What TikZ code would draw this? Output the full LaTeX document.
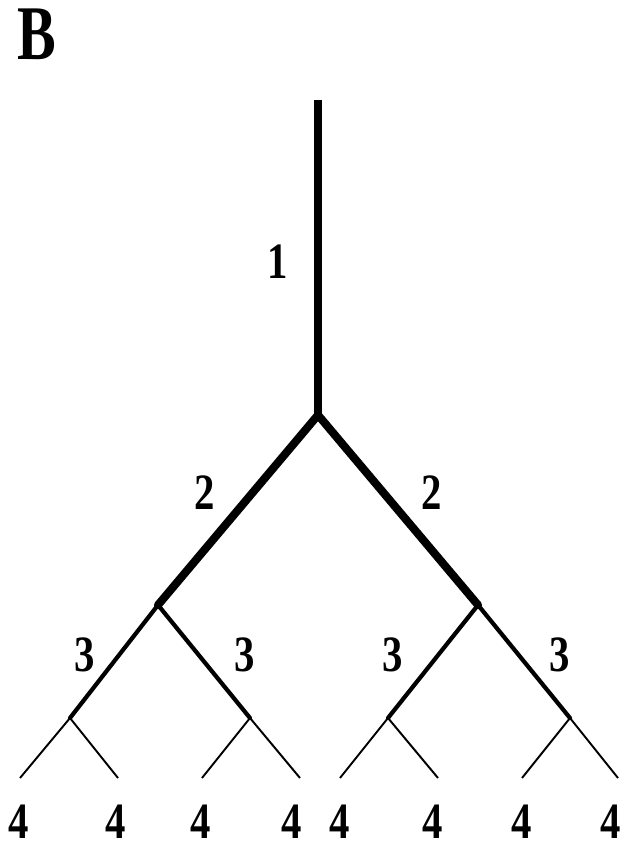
\documentclass[tikz,border=0pt]{standalone}
\usepackage{fontspec}
\setmainfont{Liberation Serif}
\usetikzlibrary{positioning}
\tikzset{
	branchpoint/.style={
			inner sep=0pt,
			minimum size=0pt
		},
	levelone/.style={
			line width=4.6pt,
			line cap=butt
		},
	leveltwo/.style={
			line width=4.6pt,
			line cap=round
		},
	levelthree/.style={
			line width=2.4pt,
			line cap=round
		},
	levelfour/.style={
			line width=1.1pt
		},
	ordernum/.style={
			font=\bfseries\fontsize{29}{29}\selectfont,
			xscale=0.8,
			inner sep=0pt
		},
	panellabel/.style={
			font=\bfseries\fontsize{44}{44}\selectfont,
			xscale=0.75,
			inner sep=0pt
		}
}
\begin{document}
\begin{tikzpicture}[x=0.02cm,y=-0.02cm]
\useasboundingbox (0,0) rectangle (623,855);
\node[panellabel] (tPanel) at (37,34) {B};

\coordinate (tTop) at (318,100);
\coordinate (tRoot) at (318,415);
\coordinate (tL) at (158,605);
\coordinate (tR) at (478,605);
\coordinate (tLL) at (70,718);
\coordinate (tLR) at (250,718);
\coordinate (tRL) at (388,718);
\coordinate (tRR) at (570,718);
\coordinate (tLLa) at (20,778);
\coordinate (tLLb) at (118,778);
\coordinate (tLRa) at (202,778);
\coordinate (tLRb) at (300,778);
\coordinate (tRLa) at (340,778);
\coordinate (tRLb) at (438,778);
\coordinate (tRRa) at (522,778);
\coordinate (tRRb) at (618,778);

\draw[levelone] (tTop) -- (tRoot);
\draw[leveltwo] (tL) -- (tRoot) -- (tR);
\draw[levelthree] (tLL) -- (tL) -- (tLR);
\draw[levelthree] (tRL) -- (tR) -- (tRR);
\draw[levelfour] (tLLa) -- (tLL) -- (tLLb);
\draw[levelfour] (tLRa) -- (tLR) -- (tLRb);
\draw[levelfour] (tRLa) -- (tRL) -- (tRLb);
\draw[levelfour] (tRRa) -- (tRR) -- (tRRb);

\node[ordernum] (nOne) at (278,262) {1};
\node[ordernum] (nTwoL) at (205,493) {2};
\node[ordernum] (nTwoR) at (432,493) {2};
\node[ordernum] (nThreeA) at (85,655) {3};
\node[ordernum] (nThreeB) at (245,655) {3};
\node[ordernum] (nThreeC) at (393,655) {3};
\node[ordernum] (nThreeD) at (560,655) {3};
\node[ordernum] (nFourA) at (19,822) {4};
\node[ordernum] (nFourB) at (116,822) {4};
\node[ordernum] (nFourC) at (201,822) {4};
\node[ordernum] (nFourD) at (292,822) {4};
\node[ordernum] (nFourE) at (340,822) {4};
\node[ordernum] (nFourF) at (433,822) {4};
\node[ordernum] (nFourG) at (522,822) {4};
\node[ordernum] (nFourH) at (611,822) {4};
\end{tikzpicture}
\end{document}
